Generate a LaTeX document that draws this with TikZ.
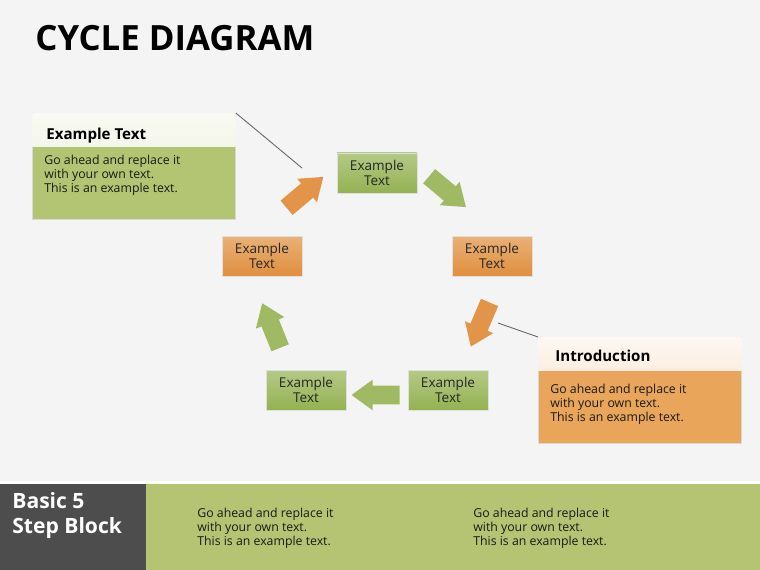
\documentclass[tikz,border=0pt]{standalone}
\usepackage{fontspec}
\setmainfont{Open Sans}
\usepackage{xcolor}
\usetikzlibrary{shapes.arrows, positioning, calc}

\definecolor{bgcol}{HTML}{F4F4F4}
\definecolor{stepgreen}{HTML}{94B252}
\definecolor{steporange}{HTML}{E08F3E}
\definecolor{panelgreen}{HTML}{B3C572}
\definecolor{panelorange}{HTML}{E9A559}
\definecolor{bandgreen}{HTML}{B4C473}
\definecolor{bandgray}{HTML}{4D4D4D}

\begin{document}
\begin{tikzpicture}[
    x=0.02cm, y=-0.02cm,
    stepbox/.style={rectangle, draw=white!75!gray, line width=0.5pt, minimum width=1.6cm, minimum height=0.8cm, inner sep=0pt, align=center, font=\fontsize{7.7}{8.6}\selectfont, text=black!85},
    gbox/.style={stepbox, top color=stepgreen!70!white, bottom color=stepgreen},
    obox/.style={stepbox, top color=steporange!70!white, bottom color=steporange},
    blockarrow/.style={single arrow, minimum height=0.96cm, minimum width=0.6cm, single arrow head extend=0.12cm, single arrow tip angle=72, inner xsep=0pt, inner ysep=0.18cm},
    garrow/.style={blockarrow, fill=stepgreen!90!white},
    oarrow/.style={blockarrow, fill=steporange!95!white},
    panel/.style={rectangle, anchor=north west, minimum width=4.06cm, minimum height=2.12cm, inner sep=0pt, draw=black!15, line width=0.5pt},
    header/.style={rectangle, anchor=north west, minimum width=4.06cm, minimum height=0.66cm, inner sep=0pt},
    headtxt/.style={anchor=west, inner sep=0pt, font=\fontsize{8.6}{10}\selectfont\bfseries},
    bodytxt/.style={anchor=north west, inner sep=0pt, align=left, font=\fontsize{7}{7.9}\selectfont, text=black!90},
    leader/.style={draw=black!60, line width=0.5pt}
]

% Hintergrund
\fill[bgcol] (0,0) rectangle (760,570);
\useasboundingbox (0,0) rectangle (760,570);

% Titel
\node[anchor=base west, inner sep=0pt, font=\fontsize{19.8}{22}\selectfont\bfseries] (title) at (35,51) {CYCLE DIAGRAM};

% Zyklus-Boxen
\node[gbox] (top) at (377,173) {Example\\Text};
\node[obox] (right) at (492,256) {Example\\Text};
\node[gbox] (botright) at (448,390) {Example\\Text};
\node[gbox] (botleft) at (306,390) {Example\\Text};
\node[obox] (left) at (262,256) {Example\\Text};

% Pfeile
\node[oarrow, rotate=40] (arrA) at (300,196.5) {};
\node[garrow, rotate=-40] (arrB) at (442.6,187.5) {};
\node[oarrow, rotate=-113] (arrC) at (482.7,318.6) {};
\node[garrow, rotate=180] (arrD) at (382,395) {};
\node[garrow, rotate=112] (arrE) at (273.6,331.5) {};

% Infobox links oben
\node[panel, fill=panelgreen] (tlbox) at (32,113) {};
\node[header, top color=white!92!panelgreen, bottom color=white!85!panelgreen] (tlhead) at (tlbox.north west) {};
\node[headtxt] (tltitle) at (46,136) {Example Text};
\node[bodytxt] (tltext) at (44,155) {Go ahead and replace it\\with your own text.\\This is an example text.};

% Infobox rechts unten
\node[panel, fill=panelorange] (rbox) at (538,337) {};
\node[header, top color=white!92!panelorange, bottom color=white!82!panelorange] (rhead) at (rbox.north west) {};
\node[headtxt] (rtitle) at (555,356) {Introduction};
\node[bodytxt] (rtext) at (550,384) {Go ahead and replace it\\with your own text.\\This is an example text.};

% Verbindungslinien
\coordinate (tlend) at (302,168);
\coordinate (rend) at (498,323);
\draw[leader] (tlbox.north east) -- (tlend);
\draw[leader] (rbox.north west) -- (rend);

% Fussleiste
\fill[white] (0,481) rectangle (760,484);
\node[rectangle, anchor=north west, fill=bandgreen, minimum width=12.28cm, minimum height=1.72cm, inner sep=0pt] (band) at (146,484) {};
\node[rectangle, anchor=north west, fill=bandgray, minimum width=2.92cm, minimum height=1.72cm, inner sep=0pt] (bandlabel) at (0,484) {};
\node[anchor=north west, inner sep=0pt, align=left, text=white, font=\fontsize{12}{14.2}\selectfont\bfseries] (blocktitle) at (12,492) {Basic 5\\Step Block};
\node[bodytxt] (bandtextA) at (197,508) {Go ahead and replace it\\with your own text.\\This is an example text.};
\node[bodytxt] (bandtextB) at (473,508) {Go ahead and replace it\\with your own text.\\This is an example text.};

\end{tikzpicture}
\end{document}
